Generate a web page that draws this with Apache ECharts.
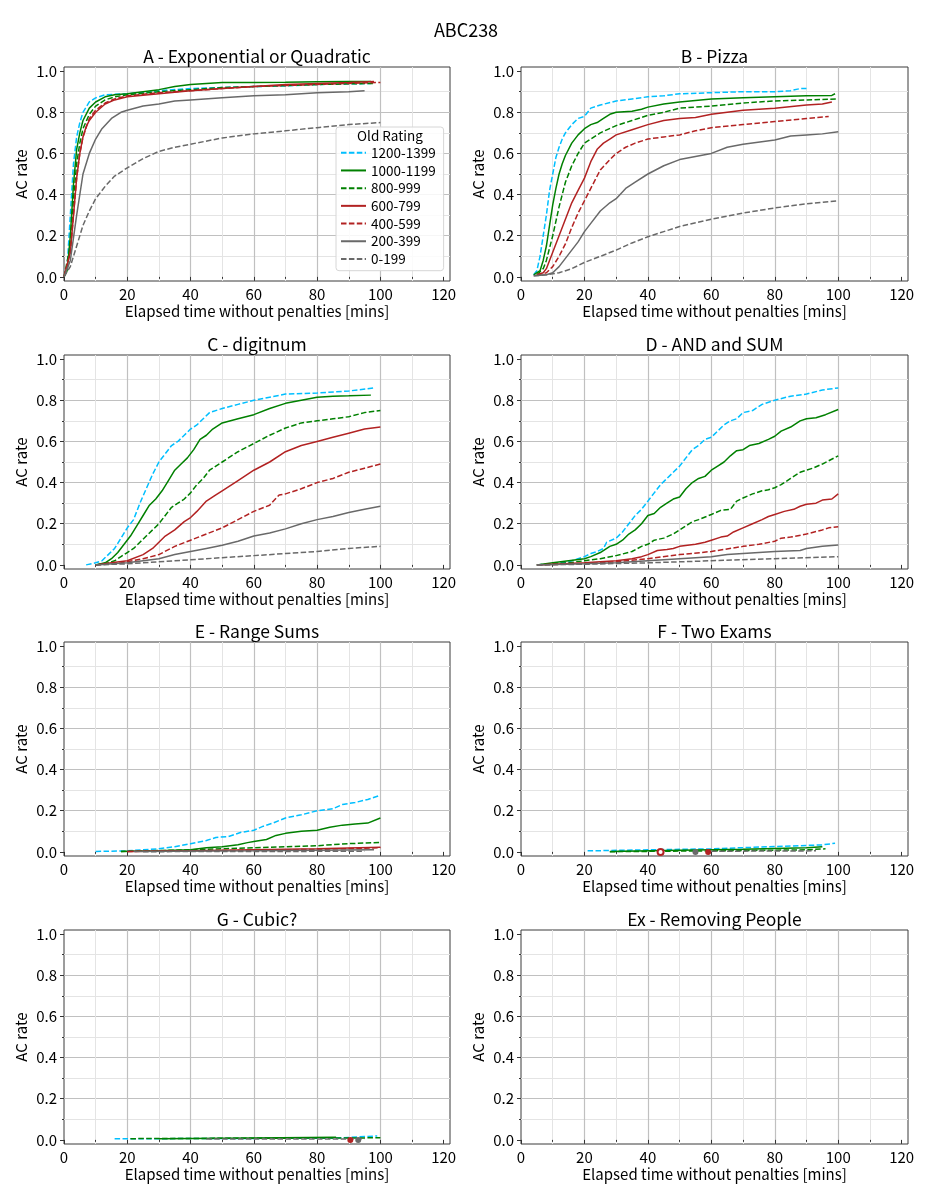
<!DOCTYPE html>
<html>
<head>
<meta charset="utf-8">
<script src="https://cdn.jsdelivr.net/npm/echarts@6/dist/echarts.min.js"></script>
<style>
html,body{margin:0;padding:0;background:#fff;}
#chart{width:933px;height:1200px;}
</style>
</head>
<body>
<div id="chart"></div>
<script>
const mainTitle = 'ABC238';
const bands = ['1200-1399','1000-1199','800-999','600-799','400-599','200-399','0-199'];
const panelTitles = ['A - Exponential or Quadratic','B - Pizza','C - digitnum','D - AND and SUM','E - Range Sums','F - Two Exams','G - Cubic?','Ex - Removing People'];
const xTicks = [0,20,40,60,80,100,120];
const yTicks = [0,0.2,0.4,0.6,0.8,1.0];
const xName = 'Elapsed time without penalties [mins]';
const yName = 'AC rate';
const legendTitle = 'Old Rating';

// each panel: one [x, y] list per rating band, in the order of `bands`
const dataA = [
  [[0,0],[1,0.05],[2,0.3],[3,0.55],[4,0.68],[5,0.75],[6,0.8],[8,0.85],[10,0.87],[13,0.885],[20,0.89],[30,0.905],[40,0.915],[50,0.92],[60,0.925],[70,0.928],[80,0.935],[90,0.938],[97,0.94]],
  [[0,0],[1,0.03],[2,0.2],[3,0.45],[4,0.62],[5,0.7],[6,0.76],[8,0.82],[10,0.85],[13,0.875],[16,0.885],[20,0.89],[25,0.9],[30,0.91],[35,0.925],[40,0.935],[50,0.945],[60,0.945],[70,0.946],[80,0.948],[90,0.95],[97,0.95]],
  [[0,0],[2,0.15],[3,0.38],[4,0.55],[5,0.65],[6,0.72],[8,0.79],[10,0.83],[13,0.86],[16,0.875],[20,0.885],[30,0.9],[40,0.91],[50,0.92],[60,0.925],[70,0.93],[80,0.935],[90,0.938],[98,0.94]],
  [[0,0],[2,0.12],[3,0.3],[4,0.48],[5,0.6],[6,0.68],[7,0.73],[8,0.76],[10,0.8],[13,0.84],[16,0.86],[20,0.875],[30,0.89],[40,0.905],[50,0.915],[60,0.925],[70,0.935],[80,0.94],[90,0.945],[98,0.95]],
  [[0,0],[2,0.12],[3,0.3],[4,0.48],[5,0.6],[6,0.68],[8,0.77],[10,0.81],[13,0.845],[16,0.865],[20,0.88],[30,0.895],[40,0.905],[50,0.915],[60,0.925],[70,0.93],[80,0.935],[90,0.94],[100,0.945]],
  [[0,0],[2,0.08],[4,0.3],[6,0.5],[8,0.6],[10,0.67],[12,0.72],[15,0.77],[18,0.8],[20,0.81],[25,0.83],[30,0.84],[35,0.855],[40,0.86],[50,0.87],[60,0.88],[70,0.885],[80,0.895],[90,0.9],[95,0.905]],
  [[0,0],[2,0.05],[4,0.15],[6,0.25],[8,0.32],[10,0.38],[13,0.44],[16,0.49],[20,0.53],[25,0.575],[30,0.61],[35,0.63],[40,0.645],[50,0.675],[60,0.695],[70,0.71],[80,0.725],[90,0.74],[100,0.75]]
];
const dataB = [
  [[4,0.01],[5,0.03],[6,0.1],[7,0.2],[8,0.3],[9,0.42],[10,0.5],[11,0.58],[12,0.63],[13,0.67],[14,0.7],[16,0.74],[18,0.77],[20,0.78],[22,0.82],[25,0.835],[30,0.855],[35,0.865],[40,0.875],[45,0.88],[50,0.89],[60,0.895],[70,0.9],[80,0.9],[85,0.905],[88,0.915],[90,0.915]],
  [[4,0.01],[6,0.03],[7,0.08],[8,0.15],[9,0.25],[10,0.35],[11,0.43],[12,0.5],[13,0.55],[14,0.59],[16,0.65],[18,0.69],[20,0.72],[22,0.74],[24,0.75],[26,0.77],[28,0.79],[30,0.8],[35,0.805],[38,0.815],[40,0.825],[45,0.84],[50,0.85],[60,0.865],[70,0.87],[80,0.875],[90,0.88],[98,0.882],[99,0.89]],
  [[5,0.01],[7,0.04],[8,0.08],[9,0.14],[10,0.2],[11,0.27],[12,0.34],[13,0.4],[14,0.46],[16,0.54],[18,0.6],[20,0.65],[22,0.67],[25,0.7],[30,0.735],[35,0.76],[40,0.785],[45,0.8],[50,0.82],[60,0.83],[70,0.845],[80,0.855],[90,0.86],[100,0.865]],
  [[5,0.01],[7,0.02],[8,0.04],[9,0.08],[10,0.12],[12,0.2],[14,0.28],[16,0.36],[18,0.42],[20,0.48],[22,0.56],[24,0.62],[26,0.65],[28,0.67],[30,0.69],[35,0.715],[40,0.74],[45,0.76],[50,0.77],[55,0.775],[60,0.79],[70,0.81],[80,0.82],[90,0.835],[95,0.84],[98,0.85]],
  [[5,0.01],[8,0.02],[10,0.05],[12,0.1],[14,0.16],[16,0.24],[18,0.31],[20,0.37],[22,0.43],[25,0.52],[28,0.57],[30,0.6],[33,0.63],[36,0.65],[40,0.67],[45,0.68],[50,0.69],[55,0.71],[60,0.725],[70,0.74],[80,0.755],[90,0.77],[97,0.78]],
  [[4,0.005],[8,0.01],[10,0.02],[12,0.05],[14,0.09],[16,0.13],[18,0.17],[20,0.22],[22,0.26],[25,0.32],[28,0.36],[30,0.38],[33,0.43],[36,0.46],[40,0.5],[45,0.54],[50,0.57],[55,0.585],[60,0.6],[65,0.63],[70,0.645],[80,0.665],[85,0.685],[90,0.69],[95,0.695],[100,0.705]],
  [[4,0.005],[8,0.01],[12,0.02],[16,0.04],[20,0.07],[25,0.1],[30,0.13],[35,0.165],[40,0.195],[45,0.22],[50,0.245],[60,0.28],[70,0.31],[80,0.335],[90,0.355],[100,0.37]]
];
const dataC = [
  [[7,0],[10,0.01],[12,0.02],[14,0.05],[16,0.08],[18,0.13],[20,0.18],[22,0.22],[24,0.3],[26,0.37],[28,0.44],[30,0.5],[32,0.54],[34,0.58],[36,0.6],[38,0.63],[40,0.66],[42,0.68],[44,0.71],[46,0.74],[50,0.76],[55,0.78],[60,0.8],[65,0.815],[70,0.83],[80,0.835],[90,0.845],[98,0.86]],
  [[10,0],[13,0.01],[15,0.03],[17,0.06],[19,0.1],[21,0.14],[23,0.19],[25,0.24],[27,0.29],[29,0.32],[31,0.36],[33,0.41],[35,0.46],[37,0.49],[39,0.52],[41,0.56],[43,0.61],[45,0.63],[47,0.66],[50,0.69],[55,0.71],[60,0.73],[65,0.76],[70,0.785],[75,0.8],[80,0.815],[85,0.82],[90,0.822],[97,0.825]],
  [[10,0],[14,0.01],[16,0.02],[18,0.04],[20,0.06],[22,0.08],[24,0.11],[26,0.14],[28,0.17],[30,0.2],[32,0.24],[34,0.28],[36,0.3],[38,0.32],[40,0.35],[42,0.39],[44,0.42],[46,0.46],[48,0.48],[50,0.5],[55,0.55],[60,0.59],[65,0.63],[70,0.665],[75,0.69],[80,0.7],[85,0.71],[90,0.72],[95,0.74],[100,0.75]],
  [[10,0],[15,0.01],[20,0.02],[25,0.05],[28,0.08],[30,0.11],[32,0.14],[35,0.17],[38,0.21],[40,0.23],[42,0.26],[45,0.31],[48,0.34],[50,0.36],[55,0.41],[60,0.46],[65,0.5],[70,0.55],[75,0.58],[80,0.6],[85,0.62],[90,0.64],[95,0.66],[100,0.67]],
  [[10,0],[18,0.01],[25,0.03],[30,0.05],[35,0.09],[40,0.12],[45,0.15],[50,0.18],[55,0.22],[60,0.26],[65,0.29],[68,0.34],[70,0.345],[75,0.37],[80,0.4],[85,0.42],[90,0.45],[95,0.47],[100,0.49]],
  [[10,0],[20,0.01],[25,0.02],[30,0.03],[35,0.05],[40,0.065],[45,0.08],[50,0.095],[55,0.115],[60,0.14],[65,0.155],[70,0.175],[75,0.2],[80,0.22],[85,0.235],[90,0.255],[95,0.27],[100,0.285]],
  [[10,0],[20,0.005],[30,0.015],[40,0.025],[50,0.035],[60,0.045],[70,0.055],[80,0.065],[90,0.08],[100,0.09]]
];
const dataD = [
  [[5,0],[10,0.005],[15,0.015],[18,0.03],[20,0.04],[22,0.055],[24,0.065],[26,0.08],[27,0.11],[30,0.13],[32,0.16],[34,0.2],[36,0.24],[38,0.27],[40,0.31],[42,0.35],[44,0.39],[46,0.42],[48,0.45],[50,0.48],[52,0.52],[54,0.56],[56,0.58],[58,0.61],[60,0.62],[62,0.65],[64,0.68],[66,0.7],[68,0.71],[70,0.74],[73,0.75],[76,0.78],[80,0.8],[85,0.82],[90,0.83],[95,0.85],[100,0.86]],
  [[5,0],[10,0.01],[15,0.02],[20,0.03],[22,0.04],[25,0.06],[28,0.09],[30,0.1],[32,0.12],[34,0.15],[36,0.17],[38,0.2],[40,0.24],[42,0.25],[44,0.28],[46,0.3],[48,0.32],[50,0.33],[52,0.37],[54,0.4],[56,0.42],[58,0.43],[60,0.46],[62,0.48],[64,0.5],[66,0.53],[68,0.555],[70,0.56],[72,0.58],[75,0.59],[78,0.61],[80,0.625],[82,0.65],[85,0.67],[88,0.7],[90,0.71],[93,0.715],[96,0.73],[100,0.755]],
  [[5,0],[15,0.01],[20,0.02],[25,0.03],[30,0.045],[35,0.065],[38,0.09],[40,0.1],[42,0.12],[45,0.13],[48,0.15],[50,0.17],[52,0.19],[54,0.21],[56,0.22],[60,0.245],[63,0.265],[66,0.27],[68,0.31],[70,0.325],[73,0.345],[76,0.36],[78,0.365],[80,0.375],[82,0.39],[85,0.42],[88,0.45],[90,0.46],[92,0.47],[95,0.49],[100,0.53]],
  [[5,0],[20,0.01],[25,0.015],[30,0.02],[35,0.03],[38,0.04],[40,0.05],[43,0.07],[46,0.075],[48,0.08],[50,0.09],[55,0.1],[58,0.11],[60,0.12],[63,0.135],[65,0.14],[67,0.16],[70,0.18],[73,0.2],[76,0.22],[78,0.235],[80,0.245],[83,0.26],[86,0.27],[88,0.285],[90,0.295],[93,0.3],[95,0.315],[98,0.32],[100,0.345]],
  [[5,0],[20,0.005],[30,0.015],[40,0.03],[50,0.05],[60,0.065],[70,0.09],[75,0.1],[80,0.115],[82,0.13],[85,0.135],[90,0.15],[95,0.17],[97,0.18],[100,0.185]],
  [[5,0],[20,0.005],[30,0.01],[40,0.02],[50,0.03],[60,0.04],[65,0.05],[70,0.055],[80,0.065],[88,0.07],[90,0.08],[95,0.09],[100,0.097]],
  [[5,0],[20,0.003],[40,0.01],[60,0.02],[80,0.03],[100,0.04]]
];
const dataE = [
  [[10,0.002],[20,0.005],[30,0.015],[35,0.025],[40,0.04],[45,0.055],[48,0.07],[52,0.075],[56,0.095],[60,0.105],[63,0.125],[66,0.14],[70,0.165],[75,0.18],[80,0.2],[85,0.21],[88,0.23],[92,0.24],[96,0.255],[100,0.275]],
  [[18,0.002],[30,0.005],[40,0.01],[45,0.02],[50,0.025],[55,0.035],[58,0.045],[60,0.05],[64,0.06],[67,0.08],[70,0.09],[75,0.1],[80,0.105],[84,0.12],[88,0.13],[92,0.135],[96,0.14],[100,0.165]],
  [[18,0.002],[40,0.01],[60,0.02],[80,0.03],[90,0.04],[100,0.046]],
  [[20,0.002],[40,0.005],[60,0.01],[80,0.015],[100,0.022]],
  [[20,0.002],[60,0.008],[80,0.012],[100,0.02]],
  [[22,0.002],[60,0.005],[80,0.008],[98,0.01]],
  [[25,0.001],[60,0.002],[95,0.003]]
];
const dataF = [
  [[21,0.005],[40,0.01],[60,0.015],[80,0.026],[95,0.034],[99,0.042]],
  [[28,0.002],[50,0.008],[70,0.013],[90,0.02],[95,0.025]],
  [[28,0.001],[60,0.005],[90,0.01],[96,0.015]],
  [[59,0.0]],
  [[44,0.0]],
  [[55,0.0]],
  [[60,0.003],[93,0.005]]
];
const dataG = [
  [[16,0.005],[50,0.007],[85,0.008],[90,0.012],[99,0.019]],
  [[30,0.006],[60,0.009],[86,0.013]],
  [[21,0.006],[60,0.008],[100,0.01]],
  [[90.5,0.0]],
  [],
  [[93,0.0]],
  [[45,0.004],[95,0.005]]
];
const dataEx = [[],[],[],[],[],[],[]];
const panelData = [dataA, dataB, dataC, dataD, dataE, dataF, dataG, dataEx];

// styles
const bandColors = ['#00bfff','#008000','#008000','#b22222','#b22222','#696969','#696969'];
const bandDashed = [true,false,true,false,true,false,true];
const FONT = '"Noto Sans CJK JP","Noto Sans",sans-serif';
const colLeft = [64, 521], colWidth = [386, 387];
const rowTop = [67, 355, 642, 930], plotH = 214;

const grids = [], xAxes = [], yAxes = [], series = [], graphics = [];
graphics.push({type:'text', x:466, y:30, z:100, style:{text:mainTitle, font:'18px '+FONT, fill:'#000', align:'center', verticalAlign:'middle'}});

panelTitles.forEach((t, p) => {
  const r = Math.floor(p/2), c = p%2;
  grids.push({left:colLeft[c], top:rowTop[r], width:colWidth[c], height:plotH, show:true, borderColor:'#3a3a3a', borderWidth:1, backgroundColor:'transparent'});
  graphics.push({type:'text', x:colLeft[c]+colWidth[c]/2, y:rowTop[r]-11, z:100, style:{text:t, font:'17.5px '+FONT, fill:'#000', align:'center', verticalAlign:'middle'}});
  xAxes.push({
    type:'value', gridIndex:p, min:0, max:122, interval:20,
    name:xName, nameLocation:'middle', nameGap:23, nameTextStyle:{fontSize:15, fontFamily:FONT, color:'#000'},
    axisLine:{show:false},
    axisTick:{show:true, inside:false, length:4, lineStyle:{color:'#333'}, customValues:xTicks},
    minorTick:{show:true, splitNumber:2, length:2, lineStyle:{color:'#333'}},
    axisLabel:{fontSize:15, fontFamily:FONT, color:'#000', margin:6, customValues:xTicks,
      formatter:v => (Math.abs(v/20 - Math.round(v/20))<1e-6 && v<=120) ? String(v) : ''},
    splitLine:{show:true, showMinLine:false, showMaxLine:false, lineStyle:{color:'#c0c0c0', width:1.2}},
    minorSplitLine:{show:true, lineStyle:{color:'#e4e4e4', width:1}}
  });
  yAxes.push({
    type:'value', gridIndex:p, min:-0.02, max:1.02, splitNumber:5,
    name:yName, nameLocation:'middle', nameGap:35, nameTextStyle:{fontSize:15, fontFamily:FONT, color:'#000'},
    axisLine:{show:false},
    axisTick:{show:true, inside:false, length:4, lineStyle:{color:'#333'}, customValues:yTicks},
    minorTick:{show:true, splitNumber:2, length:2, lineStyle:{color:'#333'}},
    axisLabel:{fontSize:15, fontFamily:FONT, color:'#000', margin:7, customValues:yTicks, showMinLabel:true, showMaxLabel:true,
      formatter:v => (v>=-1e-6 && v<=1.0001 && Math.abs(v*5-Math.round(v*5))<1e-6) ? v.toFixed(1) : ''},
    splitLine:{show:true, showMinLine:false, showMaxLine:false, lineStyle:{color:'#c0c0c0', width:1.2}},
    minorSplitLine:{show:true, lineStyle:{color:'#e4e4e4', width:1}}
  });
  panelData[p].forEach((pts, b) => {
    const single = pts.length === 1;
    series.push({
      type:'line', name:bands[b], xAxisIndex:p, yAxisIndex:p, data:pts,
      symbol: single ? (bandDashed[b] ? 'emptyCircle' : 'circle') : 'none',
      showSymbol: single, symbolSize:6,
      lineStyle:{color:bandColors[b], width:1.5, type: bandDashed[b] ? [5.5,2.4] : 'solid'},
      itemStyle:{color:bandColors[b], borderWidth: single && bandDashed[b] ? 1.5 : 0},
      silent:true, animation:false, z:3
    });
  });
});

graphics.push({type:'text', x:390, y:136, z:100, style:{text:legendTitle, font:'13.5px '+FONT, fill:'#000', align:'center', verticalAlign:'middle'}});

const option = {
  backgroundColor:'#fff',
  animation:false,
  textStyle:{fontFamily:FONT},
  grid:grids, xAxis:xAxes, yAxis:yAxes, series:series,
  legend:{
    data:bands, orient:'vertical', left:336, top:127,
    itemWidth:25, itemHeight:14, itemGap:4.2,
    padding:[19,8,5,4],
    backgroundColor:'rgba(255,255,255,0.85)', borderColor:'#d6d6d6', borderWidth:1, borderRadius:3,
    itemStyle:{color:'rgba(0,0,0,0)', borderWidth:0, opacity:0},
    textStyle:{fontSize:13.5, fontFamily:FONT, color:'#000'},
    selectedMode:false, z:10
  },
  graphic:graphics
};
const chart = echarts.init(document.getElementById('chart'), null, {renderer:'canvas'});
chart.setOption(option);
</script>
</body>
</html>
